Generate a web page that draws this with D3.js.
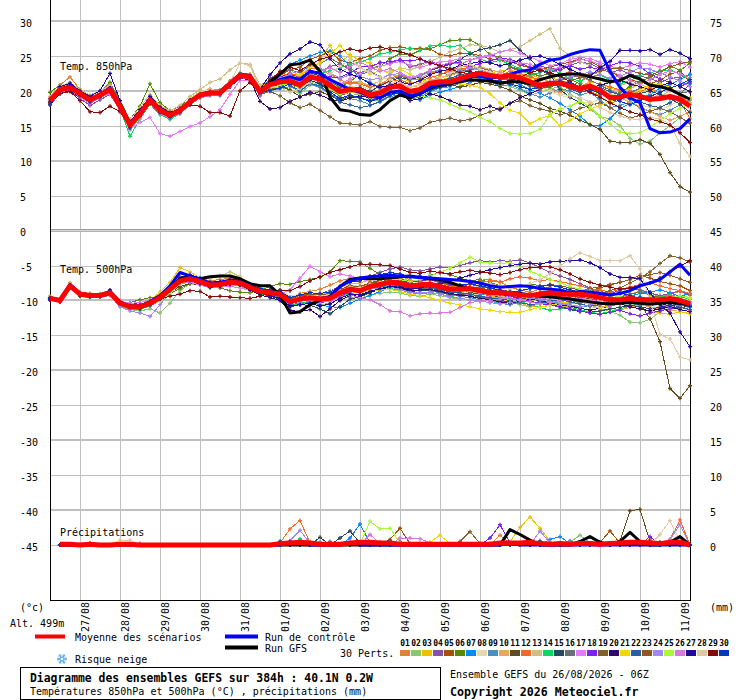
<!DOCTYPE html>
<html>
<head>
<meta charset="utf-8">
<script src="https://cdn.jsdelivr.net/npm/d3@7"></script>
<style>
  body { margin: 0; background: #fff; }
  svg { display: block; font-family: "DejaVu Sans Mono", monospace; font-size: 10px; }
</style>
</head>
<body>
<svg id="chart" width="740" height="700"></svg>
<script>
// 6-hourly steps 0..64 (26/08 06Z -> 11/09 06Z)
const dayLabels = ["27/08","28/08","29/08","30/08","31/08","01/09","02/09","03/09",
  "04/09","05/09","06/09","07/09","08/09","09/09","10/09","11/09"];

const pertColors = ["#e88030","#88c870","#f0c000","#8850a8","#a85008","#588808","#0888ff","#e8d8b0",
  "#4890c0","#e8a858","#604c18","#f86820","#d0c080","#08d860","#284860","#687078","#e878f8","#8020f0",
  "#806030","#300870","#f0d800","#2860a0","#905820","#a088f0","#a8f838","#d878d8","#2008a0","#e0c8a0",
  "#880808","#0038c0"];

// Temp. 850hPa
const t850Mean = [18.6,20.2,20.5,19.6,18.7,19.4,20.2,17.8,15.1,16.7,18.7,17.2,16.5,17.2,18.4,19.4,19.7,19.7,21.0,22.2,22.0,19.9,
  20.9,21.3,21.4,20.8,22.0,21.7,20.8,19.9,20.2,20.1,19.4,19.7,20.5,20.7,19.9,20.2,21.1,21.3,21.3,21.8,22.2,22.5,
  22.2,22.0,22.2,21.9,21.3,20.8,21.1,21.1,20.7,20.3,20.7,20.1,19.0,19.1,19.5,19.2,18.8,18.9,19.2,18.8,17.8];
const t850Ctrl = [18.5,20.0,20.8,19.7,18.8,19.5,20.5,18.0,15.2,16.9,18.9,17.3,16.6,17.3,18.5,19.5,19.8,19.8,21.1,22.4,22.2,20.1,
  21.0,21.6,22.0,21.6,22.8,22.5,21.6,20.9,20.2,19.8,19.2,19.0,19.8,20.0,19.3,19.5,20.5,21.0,21.2,21.5,22.0,22.2,
  21.8,22.0,22.4,22.8,23.0,23.8,24.4,24.6,25.2,25.6,25.9,25.8,22.8,20.5,19.0,18.3,14.6,14.0,14.1,14.6,16.0];
const t850Gfs = [18.6,20.1,20.4,19.5,18.7,19.3,20.2,17.8,15.2,16.7,18.7,17.3,16.6,17.3,18.5,19.5,19.8,19.7,21.0,22.3,22.1,20.0,
  21.2,22.4,23.7,23.9,24.4,22.8,19.1,17.3,17.1,16.6,16.5,17.3,18.6,19.4,19.0,19.6,20.4,20.8,21.0,21.3,21.6,21.5,
  21.4,21.1,21.3,21.3,21.0,21.6,22.0,22.3,22.4,22.4,22.0,21.7,21.3,21.5,22.2,21.7,20.8,20.6,20.2,19.5,18.8];
const t850Perts = [
  [19.0,20.8,22.0,20.2,19.0,19.8,21.0,18.3,15.6,17.3,19.2,17.8,17.0,17.6,18.8,19.6,20.3,20.1,21.4,22.6,22.3,20.4,21.5,22.0,22.6,22.0,23.3,23.0,22.4,21.6,21.0,21.3,20.6,20.9,21.8,22.3,21.6,21.7,22.5,22.9,23.0,23.4,23.6,23.1,22.4,21.5,20.8,21.7,22.3,21.0,20.4,19.8,20.6,21.4,20.0,19.3,18.2,18.7,20.1,19.6,18.5,19.8,20.4,19.3,18.3],
  [18.2,19.9,20.1,19.3,18.3,19.0,19.8,17.4,14.4,16.2,18.3,16.8,16.0,16.7,18.0,19.0,19.5,19.4,20.6,21.8,21.7,19.6,20.4,20.5,20.2,19.6,20.8,20.6,19.5,18.8,19.3,19.6,18.8,18.6,19.3,19.9,19.2,19.4,20.2,20.5,20.8,21.3,21.6,21.8,21.5,21.0,20.6,20.1,19.4,19.8,20.3,20.6,19.5,18.8,17.4,16.3,16.0,15.0,13.2,12.4,12.8,14.0,15.0,16.2,15.5],
  [18.9,20.6,21.0,19.9,19.1,19.7,20.6,18.1,15.5,17.0,19.0,17.5,16.8,17.5,18.9,19.9,20.1,19.9,21.2,22.6,22.4,20.3,21.5,22.6,23.0,22.1,23.4,24.6,26.5,24.0,25.2,24.3,24.0,23.1,22.4,22.0,21.3,21.0,21.8,22.0,21.6,22.5,23.2,23.0,22.6,22.8,23.1,22.4,21.7,21.8,22.0,21.4,21.2,20.6,21.3,21.0,20.4,20.0,20.3,21.0,20.2,19.7,20.5,19.6,18.7],
  [18.0,19.6,20.0,18.9,17.9,18.7,19.5,17.3,14.8,16.4,18.2,16.9,16.2,16.9,18.1,19.1,19.4,19.5,20.7,21.9,21.6,19.3,20.4,21.4,22.2,21.6,22.6,22.8,23.5,23.8,23.2,22.5,23.3,24.1,23.9,24.5,23.4,23.8,24.3,23.6,22.9,23.3,22.7,22.0,21.8,22.3,23.4,22.8,22.6,23.5,23.3,22.9,23.7,24.1,23.9,23.2,22.6,23.0,22.4,22.1,21.8,21.2,21.8,21.9,22.3],
  [18.8,20.5,20.8,19.8,18.9,19.6,20.5,18.0,15.3,17.0,18.9,17.5,16.7,17.4,18.7,19.7,20.0,19.9,21.3,22.5,22.3,20.2,21.3,22.2,23.0,23.4,24.5,25.0,25.6,24.4,24.0,24.6,25.0,25.8,26.2,26.3,26.0,26.1,26.0,25.2,25.0,25.4,25.4,25.0,24.6,24.4,24.2,23.7,23.3,23.0,23.4,23.8,24.1,24.6,24.2,23.5,22.8,22.0,21.6,21.2,21.0,21.5,22.4,22.8,21.3],
  [19.8,20.8,20.9,19.5,18.5,19.9,21.2,18.6,15.9,17.8,21.0,18.3,17.2,17.8,18.8,19.6,19.9,20.1,21.4,22.4,22.2,20.1,20.5,20.8,20.9,20.4,21.8,22.1,21.3,20.5,21.3,22.4,23.3,23.5,24.6,25.3,25.1,25.8,26.0,26.6,27.2,27.3,27.3,26.5,25.2,24.8,23.5,23.0,22.6,22.1,22.5,22.1,21.7,21.0,20.2,19.6,19.2,19.8,20.6,21.3,22.0,22.5,23.6,22.9,24.0],
  [18.4,20.0,20.5,19.4,18.5,19.2,20.1,17.7,14.9,16.5,18.5,17.0,16.3,17.1,18.3,19.3,19.6,19.6,21.0,22.3,22.1,19.7,21.3,22.5,23.8,24.4,25.0,25.5,25.7,25.0,23.5,21.8,21.2,20.4,20.0,19.8,19.0,18.7,19.4,19.8,20.2,20.6,21.2,21.7,22.0,21.8,21.5,20.9,20.2,19.7,19.0,18.2,17.3,16.4,15.1,15.0,16.0,17.5,18.2,18.9,19.5,20.4,20.9,21.6,22.4],
  [19.0,20.6,20.9,20.0,19.3,19.9,20.5,18.2,15.6,17.2,19.1,17.6,16.9,17.6,18.9,19.8,20.2,20.0,21.3,22.5,22.2,20.1,20.8,21.2,20.9,20.1,21.4,21.9,20.9,20.0,20.6,20.8,20.1,20.5,21.3,21.2,20.6,20.9,21.8,22.3,22.8,22.4,22.1,22.6,23.1,22.5,22.0,21.4,20.7,20.1,19.8,19.4,19.0,18.5,18.2,18.9,19.6,19.3,18.8,18.1,17.6,17.3,17.9,18.6,18.0],
  [18.2,19.8,20.4,19.2,18.4,19.1,19.8,17.4,14.7,16.4,18.4,16.9,16.2,16.8,18.1,19.0,19.4,19.3,20.7,22.0,21.8,19.5,20.0,20.3,20.6,19.9,21.0,20.5,19.6,18.7,18.9,18.6,18.0,18.4,19.2,19.4,18.8,19.1,19.9,20.4,20.6,21.1,21.5,21.8,21.3,20.7,20.9,20.3,19.6,19.1,19.7,20.3,20.0,19.4,19.8,18.7,17.6,17.9,18.4,17.6,17.0,16.6,17.2,18.0,18.7],
  [18.7,20.3,20.6,19.8,18.8,19.4,20.3,17.9,15.3,16.9,18.8,17.3,16.7,17.3,18.6,19.5,19.9,19.8,21.1,22.3,22.1,20.0,21.0,21.6,21.8,21.2,22.2,21.6,20.5,19.8,20.4,20.2,19.7,20.2,21.0,21.2,20.5,20.8,21.5,21.9,22.2,22.6,23.0,23.5,23.0,22.7,22.3,22.9,22.4,21.8,21.3,21.6,21.0,20.4,20.9,20.2,19.5,19.0,18.4,17.8,17.0,16.4,15.8,16.3,17.1],
  [18.5,20.0,20.3,19.5,18.6,19.3,20.0,17.6,15.0,16.6,18.6,17.1,16.4,17.1,18.3,19.3,19.6,19.6,20.9,22.1,21.9,19.8,20.6,20.8,20.1,19.2,19.5,19.9,19.3,18.7,19.2,19.0,18.6,19.0,19.8,20.1,19.5,19.6,20.3,20.7,21.0,20.5,20.8,21.2,21.0,20.6,20.1,19.3,18.7,18.2,17.5,17.1,16.5,15.8,15.2,14.5,12.8,12.6,12.6,13.0,12.5,10.9,8.3,6.3,5.5],
  [18.9,20.4,20.8,19.9,19.0,19.5,20.4,18.0,15.4,16.9,18.9,17.4,16.8,17.4,18.5,19.5,19.9,19.9,21.2,22.4,22.2,20.1,21.2,21.9,22.5,22.0,22.8,22.3,21.6,20.9,21.2,21.0,20.5,20.9,21.4,21.6,21.0,21.4,21.9,22.3,22.9,23.1,23.4,23.0,22.6,22.2,22.8,22.5,22.0,21.6,21.9,22.3,22.7,22.0,21.5,20.9,20.6,20.1,19.8,19.9,20.5,19.6,19.2,18.5,16.0],
  [19.2,20.7,21.2,20.2,19.4,20.0,20.8,18.4,15.9,17.6,19.5,17.9,17.2,17.9,19.2,20.2,21.2,21.7,23.0,24.0,23.8,20.8,21.5,22.3,22.0,21.3,22.3,22.6,21.7,21.0,21.5,21.2,20.8,21.4,22.5,23.3,23.0,23.5,24.2,24.8,25.6,26.0,26.6,26.5,26.2,25.5,25.9,26.3,27.2,28.1,28.9,26.1,25.0,24.2,23.6,22.4,21.5,20.8,21.2,20.6,19.7,19.2,20.0,19.5,18.9],
  [18.3,19.9,20.3,19.3,18.4,19.2,20.1,17.5,13.5,16.0,18.1,16.6,15.9,16.8,18.0,19.1,19.5,19.6,20.8,21.9,21.8,19.7,21.0,21.7,22.3,21.8,22.9,22.5,22.9,23.3,23.8,24.1,24.6,25.3,25.5,25.9,26.1,25.8,26.4,26.6,26.3,26.5,25.4,24.6,24.0,24.4,23.8,23.2,22.3,22.6,23.1,22.5,21.8,21.4,22.0,22.3,21.6,21.0,21.5,22.2,22.6,22.9,23.0,22.4,21.6],
  [18.6,20.3,20.6,19.7,18.8,19.5,20.3,17.8,15.1,16.8,18.8,17.3,16.6,17.3,18.5,19.5,19.8,19.8,21.1,22.3,22.0,20.0,20.9,21.6,22.0,21.4,22.6,22.1,21.0,20.2,20.3,20.5,19.9,20.7,21.4,21.9,21.6,22.0,22.9,23.4,23.8,24.5,25.3,25.9,26.2,26.6,27.2,25.8,24.6,23.0,22.3,20.2,19.1,18.3,17.4,17.9,18.5,18.8,19.4,19.6,20.0,19.5,18.9,18.1,16.9],
  [18.5,20.1,20.5,19.5,18.6,19.4,20.1,17.7,15.0,16.6,18.6,17.1,16.5,17.1,18.3,19.3,19.6,19.6,20.9,22.1,21.9,19.9,21.8,22.6,23.0,22.6,23.6,23.9,24.7,23.9,23.0,22.3,22.8,22.0,21.6,22.1,21.7,22.2,22.9,22.6,22.3,22.8,23.0,23.3,22.9,22.1,21.6,21.2,20.7,20.5,21.0,21.5,21.9,22.2,21.6,20.8,20.1,19.5,19.8,20.3,20.7,21.1,20.4,19.7,19.9],
  [18.4,19.9,20.2,19.1,18.3,19.0,19.6,17.2,14.6,15.5,16.2,13.9,13.5,14.2,14.9,15.4,16.3,17.3,19.5,21.5,21.4,19.5,20.7,21.2,21.0,20.5,21.6,21.9,21.5,21.0,21.7,22.4,23.1,23.5,23.9,24.2,23.7,23.3,23.8,24.1,24.3,24.6,24.4,24.7,25.0,25.6,25.9,25.4,24.9,24.2,23.6,23.9,24.5,24.8,24.6,24.1,23.5,23.2,23.6,24.0,23.8,23.4,23.9,24.2,23.4],
  [18.6,20.2,20.7,19.7,18.9,19.6,20.4,17.9,15.2,16.8,18.7,17.2,16.5,17.2,18.4,19.4,19.8,19.8,21.1,22.2,22.0,20.0,21.2,22.0,22.4,21.8,22.9,22.7,22.0,21.9,22.6,23.4,23.5,24.0,24.2,24.4,24.3,24.5,24.0,23.6,23.9,24.1,23.5,23.9,24.3,24.7,24.5,24.0,23.4,22.8,22.6,23.2,23.6,23.1,23.4,23.0,23.6,24.1,24.0,23.5,22.4,21.7,21.2,20.6,21.3],
  [18.3,19.9,20.2,19.3,18.4,19.1,19.8,17.4,14.8,16.4,18.4,16.9,16.2,16.9,18.1,19.1,19.4,19.4,20.6,21.8,21.6,19.5,19.9,19.3,18.3,17.6,18.1,17.2,16.3,15.4,15.3,15.1,15.6,14.9,14.8,14.8,14.3,14.7,15.5,15.8,16.1,15.7,15.9,16.5,17.0,17.5,18.2,18.6,17.9,17.4,17.1,16.6,16.9,17.5,17.9,18.3,17.6,16.8,16.1,16.5,17.1,17.5,17.0,16.2,15.4],
  [18.0,19.7,20.0,19.1,18.4,19.1,19.9,17.5,14.9,16.5,18.5,17.0,16.4,17.0,18.2,19.2,19.5,19.5,20.6,21.8,21.6,18.5,17.4,17.6,18.5,19.1,19.8,19.4,18.8,18.5,19.0,19.3,19.0,19.4,19.9,19.5,18.6,18.9,19.6,19.2,18.6,18.0,17.8,17.3,17.8,17.3,18.2,19.0,19.6,20.2,20.8,21.0,20.6,20.1,20.4,20.8,21.2,21.5,21.0,20.6,20.1,20.7,21.2,20.6,19.9],
  [18.8,20.4,20.7,19.8,18.9,19.6,20.4,18.0,15.4,17.0,18.9,17.4,16.8,17.4,18.6,19.6,19.9,19.8,21.1,22.3,22.1,20.0,21.0,21.5,21.9,22.3,23.4,24.0,25.3,26.5,24.8,23.4,22.4,22.9,22.8,23.1,22.4,21.6,21.2,21.6,21.3,21.0,20.8,20.5,19.6,18.3,17.2,16.8,15.3,16.0,16.5,15.0,15.8,16.7,17.4,17.9,18.5,19.2,19.6,20.1,20.8,21.0,20.5,19.6,19.0],
  [18.4,20.1,20.3,19.4,18.5,19.3,20.0,17.7,15.0,16.6,18.6,17.1,16.4,17.1,18.3,19.3,19.6,19.6,20.9,22.0,21.9,19.8,20.5,21.0,20.8,20.0,21.1,20.7,19.6,18.4,18.0,17.6,17.9,18.5,19.3,19.8,19.4,19.9,20.8,21.4,21.8,22.3,22.6,22.8,22.4,22.1,22.0,21.5,20.9,20.4,20.7,20.9,20.3,19.8,20.1,20.5,19.9,19.4,18.8,18.4,17.9,17.6,18.3,19.5,21.0],
  [18.9,20.5,20.6,19.6,18.6,19.4,20.3,17.8,15.2,16.8,18.7,17.2,16.6,17.3,18.5,19.4,19.8,19.7,21.0,22.1,21.9,19.9,20.2,20.6,21.8,21.2,22.0,21.2,20.1,19.3,19.8,19.6,19.2,19.6,20.2,20.6,20.0,20.3,21.0,21.2,21.5,21.6,22.1,22.4,22.0,21.6,21.9,21.4,20.8,20.2,20.6,20.9,21.4,21.9,22.5,22.8,23.1,23.3,22.9,22.5,22.2,22.8,23.4,23.9,24.2],
  [18.8,20.3,20.4,19.7,18.8,19.4,20.2,17.9,15.2,16.9,18.8,17.3,16.6,17.4,18.6,19.5,19.8,19.7,21.0,22.2,22.0,20.0,21.1,21.8,22.4,22.9,23.7,23.2,22.6,21.8,22.3,22.1,21.6,21.8,22.3,22.5,21.8,22.1,22.7,23.0,22.7,22.9,23.3,23.0,22.6,22.4,22.1,21.8,21.2,20.9,21.3,21.7,22.0,22.3,22.7,22.3,21.8,22.1,22.7,23.3,23.1,22.6,22.0,21.4,20.6],
  [18.5,20.1,20.4,19.5,18.8,19.3,19.9,17.6,14.5,16.3,18.3,16.9,16.3,17.0,18.3,19.3,19.6,19.7,21.1,22.1,21.9,19.8,20.4,20.8,21.0,20.4,21.3,20.9,20.2,19.5,19.8,19.6,19.1,19.4,19.9,20.1,19.4,19.3,19.0,18.7,18.1,17.5,17.0,16.2,15.6,14.6,13.9,13.8,13.9,14.5,16.6,17.4,17.8,18.5,17.7,16.4,15.3,14.1,13.9,14.0,14.8,15.8,16.7,17.5,18.2],
  [18.1,19.8,20.2,19.1,18.2,19.0,19.8,17.4,14.5,16.2,18.2,16.8,16.1,16.8,18.0,19.0,19.3,19.4,20.7,21.9,21.7,19.6,21.0,21.5,21.8,21.3,22.2,22.8,23.3,22.6,23.5,24.1,23.4,22.8,23.2,22.6,21.9,22.3,23.0,23.6,24.1,23.8,24.4,24.9,25.1,24.6,24.2,24.0,23.8,23.3,22.9,23.4,23.9,24.5,24.3,23.8,22.9,22.2,21.5,20.9,21.6,22.3,22.9,22.4,21.9],
  [18.8,20.6,21.1,20.0,19.2,20.0,22.5,18.6,15.6,17.3,19.2,17.7,16.9,17.5,18.7,19.6,19.9,19.9,21.2,22.3,22.1,20.2,22.3,24.0,25.3,26.0,27.0,26.6,24.6,23.1,22.4,21.9,21.0,20.5,20.8,21.3,20.9,21.5,22.3,22.8,23.1,23.6,23.9,24.2,24.0,23.6,23.9,24.4,24.8,25.0,24.5,23.8,23.1,22.4,22.1,23.3,24.2,25.8,25.8,25.7,25.9,25.2,25.9,25.4,24.6],
  [18.7,20.2,20.6,19.7,18.8,19.5,20.3,17.9,15.3,16.9,18.8,17.3,16.6,17.3,18.5,19.5,19.8,19.8,21.2,24.0,23.6,20.3,20.6,20.5,19.8,20.3,21.2,21.7,22.4,23.5,24.5,23.3,22.6,22.0,21.6,21.1,20.6,20.8,21.3,21.8,22.5,23.4,23.8,23.1,22.7,22.3,22.1,21.8,21.3,20.6,20.0,19.6,19.3,19.0,18.4,17.6,16.9,16.4,16.0,15.9,16.2,16.0,15.2,12.5,10.6],
  [18.4,19.6,19.9,18.6,17.0,16.9,17.8,17.0,15.0,16.8,18.2,17.0,16.5,17.2,18.0,17.8,16.9,16.9,16.4,20.0,21.2,19.8,21.5,22.8,23.4,22.9,23.8,24.5,24.9,25.6,26.0,25.7,26.1,26.3,25.9,25.6,25.2,24.6,24.0,23.6,23.2,22.6,22.8,22.3,21.7,21.2,21.5,21.9,22.6,23.0,22.6,22.1,21.3,20.5,19.8,19.1,18.3,17.6,17.0,16.6,16.0,15.6,15.1,14.0,12.6],
  [18.1,19.9,20.4,19.3,18.4,19.1,20.0,17.6,14.7,16.4,18.4,16.9,16.2,16.9,18.2,19.2,19.5,19.5,20.8,22.0,21.8,19.7,20.1,20.4,21.0,20.6,21.5,21.0,19.8,18.9,19.4,19.0,18.5,18.9,19.5,19.7,19.1,19.4,20.1,20.5,20.8,21.4,21.8,22.0,21.6,21.4,21.0,20.6,20.2,20.5,21.0,21.4,21.1,20.6,20.2,19.7,19.1,18.5,18.0,18.6,19.2,19.8,20.4,20.9,21.6]
];

// Temp. 500hPa
const t500Mean = [-9.7,-10.0,-7.9,-9.1,-9.3,-9.3,-8.9,-10.4,-10.9,-10.9,-10.4,-9.6,-8.4,-7.2,-6.9,-7.3,-7.8,-7.7,-7.4,-7.5,-8.1,-8.7,
  -8.9,-9.1,-10.2,-9.8,-9.6,-9.8,-9.7,-8.9,-8.4,-8.6,-8.0,-7.7,-7.4,-7.5,-7.9,-7.8,-7.7,-8.0,-8.4,-8.4,-8.3,-8.6,
  -8.9,-8.9,-9.0,-9.2,-9.3,-9.1,-8.9,-9.1,-9.1,-9.1,-9.3,-9.6,-9.9,-9.9,-9.7,-9.9,-9.9,-9.9,-9.7,-10.0,-10.5];
const t500Ctrl = [-9.6,-9.9,-7.7,-9.0,-9.2,-9.2,-8.7,-10.2,-10.8,-10.8,-10.2,-9.3,-7.9,-6.0,-6.5,-7.0,-7.5,-7.4,-7.1,-7.3,-7.9,-8.6,
  -8.9,-9.1,-10.2,-9.8,-9.6,-9.7,-9.5,-8.0,-7.2,-6.8,-6.6,-6.5,-6.4,-6.5,-6.6,-6.7,-6.8,-6.9,-7.0,-7.1,-7.3,-7.5,
  -7.9,-8.1,-8.0,-7.9,-8.0,-8.3,-8.4,-8.5,-8.9,-8.7,-8.8,-9.0,-9.2,-9.0,-8.6,-7.9,-7.5,-7.0,-5.9,-4.8,-6.4];
const t500Gfs = [-9.7,-10.0,-7.8,-9.0,-9.2,-9.2,-8.8,-10.3,-10.8,-10.8,-10.2,-9.4,-8.2,-6.9,-6.6,-6.9,-6.6,-6.5,-6.5,-6.9,-7.6,-7.9,
  -7.9,-9.2,-11.8,-11.6,-10.6,-10.0,-9.4,-8.0,-7.0,-6.8,-6.9,-6.9,-6.8,-6.6,-6.5,-6.7,-6.9,-7.0,-7.4,-7.9,-8.4,-8.6,
  -8.8,-9.0,-9.1,-9.0,-9.2,-9.4,-9.5,-9.6,-9.8,-10.0,-10.2,-10.4,-10.5,-10.4,-10.3,-10.4,-10.5,-10.4,-10.3,-10.4,-10.6];
const t500Perts = [
  [-9.4,-9.8,-7.5,-8.8,-9.0,-9.1,-8.6,-10.0,-10.6,-10.6,-10.0,-9.1,-7.9,-6.7,-6.5,-6.8,-7.2,-7.0,-6.8,-7.0,-7.6,-8.2,-8.5,-8.6,-9.5,-9.0,-8.7,-8.4,-7.8,-7.2,-6.8,-6.9,-6.5,-6.4,-6.2,-6.6,-7.0,-7.3,-7.0,-7.5,-7.9,-8.2,-7.6,-7.1,-7.0,-7.3,-8.1,-8.5,-8.8,-8.4,-8.1,-8.6,-9.0,-8.7,-8.3,-8.9,-9.4,-9.8,-9.2,-8.6,-8.9,-9.5,-9.1,-8.7,-9.3],
  [-9.9,-10.2,-8.2,-9.4,-9.6,-9.5,-9.2,-10.8,-11.3,-11.5,-11.2,-11.8,-10.4,-8.6,-7.6,-7.8,-8.2,-8.0,-7.8,-7.9,-8.6,-9.1,-9.3,-9.6,-10.7,-10.5,-10.2,-10.6,-10.4,-9.8,-9.5,-9.7,-9.2,-9.0,-8.8,-8.9,-9.3,-9.4,-9.1,-9.3,-9.6,-9.8,-9.5,-9.7,-9.9,-10.1,-10.3,-10.6,-10.9,-10.4,-10.0,-10.3,-10.5,-10.2,-10.6,-11.2,-11.6,-12.1,-13.1,-13.2,-12.7,-11.6,-10.9,-11.3,-11.0],
  [-9.6,-9.9,-7.7,-9.0,-9.2,-9.2,-8.8,-10.3,-10.7,-10.6,-10.0,-8.8,-7.4,-5.3,-5.9,-6.8,-7.5,-7.5,-7.2,-7.3,-8.0,-8.6,-8.8,-9.0,-10.0,-9.6,-9.3,-9.1,-8.8,-8.2,-7.6,-7.5,-7.0,-6.8,-6.6,-6.8,-7.2,-7.3,-7.6,-8.0,-8.3,-8.1,-8.4,-8.9,-9.4,-9.7,-10.1,-10.4,-10.8,-11.0,-10.6,-10.2,-9.9,-9.5,-9.2,-9.6,-10.1,-10.5,-10.9,-11.2,-11.5,-11.8,-12.0,-11.6,-11.9],
  [-9.8,-10.0,-8.0,-9.2,-9.4,-9.3,-9.0,-10.5,-11.0,-11.1,-10.6,-9.8,-8.6,-7.4,-7.1,-7.5,-7.9,-7.8,-7.5,-7.6,-8.2,-8.8,-9.0,-9.2,-10.1,-9.6,-9.2,-9.0,-8.6,-8.0,-7.3,-7.0,-6.5,-6.0,-5.5,-5.2,-5.6,-5.8,-5.5,-5.2,-5.4,-5.0,-4.6,-4.3,-4.5,-4.3,-4.4,-4.2,-4.6,-5.3,-6.0,-6.5,-7.0,-7.6,-8.2,-8.7,-9.0,-8.6,-8.2,-8.5,-8.9,-9.3,-9.0,-8.6,-9.2],
  [-9.7,-10.1,-8.0,-9.0,-9.1,-9.2,-8.8,-10.3,-10.8,-10.8,-10.3,-9.6,-8.3,-7.0,-6.7,-7.1,-7.5,-7.4,-7.1,-7.2,-7.9,-8.5,-8.7,-8.9,-9.9,-9.4,-9.1,-9.2,-9.0,-8.4,-7.9,-8.1,-7.5,-7.1,-6.7,-6.9,-7.3,-7.1,-7.0,-7.4,-7.8,-8.0,-7.7,-8.0,-8.3,-8.5,-8.7,-9.0,-9.1,-8.8,-8.6,-9.0,-9.2,-8.9,-8.6,-8.2,-7.8,-7.4,-7.0,-6.4,-6.8,-7.3,-7.6,-7.9,-8.6],
  [-9.6,-9.9,-7.8,-9.0,-9.2,-9.3,-8.8,-10.2,-10.3,-9.9,-9.6,-9.4,-9.0,-8.3,-7.5,-7.6,-8.0,-8.2,-8.6,-8.8,-8.9,-8.5,-8.0,-7.6,-7.7,-7.3,-7.0,-6.7,-5.9,-4.3,-4.4,-4.5,-5.4,-6.3,-6.8,-7.1,-7.5,-7.0,-6.4,-6.0,-6.3,-6.8,-7.2,-7.0,-7.4,-7.9,-8.3,-8.0,-7.6,-7.9,-8.5,-8.8,-9.0,-8.7,-8.5,-8.9,-9.2,-9.5,-9.1,-8.8,-9.2,-9.6,-9.9,-9.5,-9.8],
  [-9.8,-10.1,-8.0,-9.2,-9.4,-9.4,-9.0,-10.6,-11.1,-11.0,-10.5,-9.7,-8.5,-7.3,-7.0,-7.4,-7.9,-7.8,-7.5,-7.6,-8.2,-8.9,-9.2,-9.5,-10.6,-10.4,-10.3,-10.6,-10.9,-11.0,-10.4,-9.8,-9.3,-8.7,-8.2,-8.0,-8.3,-8.1,-7.9,-8.2,-8.6,-8.5,-8.8,-9.1,-9.3,-9.0,-8.7,-9.0,-9.4,-9.6,-9.3,-9.0,-9.4,-9.8,-10.3,-10.6,-10.2,-9.8,-9.4,-9.0,-8.8,-8.5,-8.9,-9.4,-9.0],
  [-9.6,-9.9,-7.8,-9.0,-9.2,-9.2,-8.8,-10.3,-10.8,-10.9,-10.3,-9.5,-8.3,-7.1,-6.8,-7.2,-7.7,-7.6,-7.3,-7.4,-8.0,-8.6,-8.6,-8.5,-9.4,-9.1,-8.9,-9.0,-8.7,-8.1,-7.8,-8.0,-7.6,-7.4,-7.5,-7.8,-8.2,-8.4,-8.3,-8.5,-8.8,-8.6,-8.9,-9.3,-9.6,-9.8,-9.5,-9.3,-9.6,-9.9,-10.2,-10.0,-9.7,-9.3,-9.6,-9.9,-10.3,-10.6,-10.4,-10.1,-10.5,-10.9,-11.3,-11.0,-11.4],
  [-9.8,-10.0,-8.0,-9.2,-9.4,-9.4,-9.0,-10.5,-11.0,-11.0,-10.6,-9.9,-8.8,-7.6,-7.2,-7.6,-8.0,-7.9,-7.6,-7.8,-8.4,-9.0,-9.3,-9.6,-10.4,-10.0,-9.8,-10.1,-9.9,-9.2,-8.6,-8.8,-8.3,-8.0,-7.9,-8.2,-8.6,-8.5,-8.6,-8.9,-9.2,-9.4,-9.6,-9.9,-10.1,-10.4,-10.6,-10.3,-10.1,-9.8,-10.0,-10.4,-10.8,-11.0,-10.7,-10.3,-10.0,-9.7,-10.1,-10.5,-10.8,-10.4,-10.1,-10.5,-10.9],
  [-9.5,-9.8,-7.7,-8.9,-9.1,-9.2,-8.7,-10.2,-10.7,-10.7,-10.2,-9.4,-8.2,-7.0,-6.7,-7.1,-7.6,-7.5,-7.2,-7.3,-7.9,-8.5,-8.8,-9.0,-10.0,-9.7,-9.4,-9.6,-9.3,-8.6,-8.1,-8.3,-7.8,-7.6,-7.4,-7.6,-8.0,-8.0,-7.9,-8.2,-8.6,-8.8,-9.1,-9.4,-9.6,-9.3,-9.1,-9.4,-9.8,-10.2,-10.5,-10.8,-10.9,-10.6,-10.4,-10.8,-11.1,-11.4,-11.0,-10.6,-10.9,-11.2,-11.5,-11.3,-11.6],
  [-9.7,-10.0,-8.0,-9.1,-9.3,-9.2,-8.9,-10.2,-10.5,-10.3,-9.9,-9.5,-8.8,-8.0,-7.6,-7.7,-8.0,-7.9,-7.6,-7.7,-8.3,-8.8,-9.0,-9.3,-10.2,-9.9,-9.6,-9.8,-9.6,-8.9,-8.4,-8.5,-8.1,-7.9,-7.7,-7.9,-8.3,-8.2,-8.2,-8.6,-9.0,-9.2,-8.9,-9.0,-9.2,-9.5,-9.4,-9.6,-9.9,-9.6,-9.3,-9.5,-9.8,-9.6,-9.8,-10.2,-10.6,-10.3,-10.1,-10.5,-12.6,-15.9,-22.6,-24.0,-22.2],
  [-9.6,-9.9,-7.8,-9.0,-9.2,-9.2,-8.8,-10.3,-10.8,-10.8,-10.2,-9.4,-8.1,-6.9,-6.7,-7.2,-7.7,-7.6,-7.3,-7.4,-8.0,-8.6,-8.8,-9.0,-10.1,-9.6,-9.4,-9.5,-9.3,-8.7,-8.2,-8.3,-7.7,-7.4,-7.2,-7.3,-7.7,-7.6,-7.5,-7.8,-8.2,-8.0,-7.6,-7.3,-7.2,-7.4,-6.9,-6.6,-6.8,-7.2,-7.0,-7.3,-7.6,-7.9,-8.3,-8.5,-8.8,-8.4,-8.1,-7.7,-7.5,-7.9,-8.3,-8.6,-9.0],
  [-9.5,-9.8,-7.6,-8.9,-9.1,-9.1,-8.6,-10.1,-10.6,-10.6,-10.1,-9.2,-8.0,-6.8,-6.4,-6.7,-6.9,-6.5,-5.9,-6.6,-7.6,-8.4,-8.7,-9.0,-9.9,-9.5,-9.3,-9.4,-9.1,-8.5,-8.0,-8.2,-7.7,-7.5,-7.3,-7.5,-7.9,-7.8,-7.7,-8.0,-8.4,-8.5,-8.7,-9.0,-9.2,-9.4,-9.6,-9.9,-10.1,-9.8,-9.5,-9.7,-9.9,-10.2,-10.5,-10.3,-10.0,-9.8,-10.1,-10.4,-10.2,-9.9,-10.3,-10.7,-10.9],
  [-9.8,-10.1,-8.1,-9.3,-9.5,-9.5,-9.1,-10.7,-11.2,-11.3,-10.8,-10.0,-8.8,-7.6,-7.2,-7.6,-8.1,-7.9,-7.6,-7.7,-8.3,-9.0,-9.4,-9.7,-10.8,-10.4,-10.1,-10.3,-10.0,-9.4,-9.0,-9.2,-8.8,-8.5,-8.3,-8.5,-8.9,-9.0,-8.9,-9.1,-9.4,-9.7,-9.9,-10.1,-10.3,-10.0,-9.7,-10.1,-10.6,-11.0,-11.4,-11.2,-11.0,-11.3,-11.7,-11.9,-11.6,-11.2,-10.8,-10.4,-10.0,-9.6,-9.2,-9.5,-9.8],
  [-9.9,-10.2,-8.1,-9.3,-9.5,-9.5,-9.1,-10.6,-11.1,-11.2,-10.7,-9.9,-8.7,-7.5,-7.1,-7.5,-8.0,-7.9,-7.6,-7.7,-8.3,-8.9,-9.4,-9.8,-10.9,-10.6,-10.7,-11.2,-11.9,-10.9,-9.8,-9.5,-8.9,-8.4,-8.1,-8.3,-8.7,-8.6,-8.5,-8.8,-9.1,-9.3,-9.2,-9.4,-9.7,-10.0,-10.2,-10.0,-9.7,-10.1,-10.5,-10.9,-11.3,-11.6,-11.7,-11.5,-11.2,-11.0,-10.7,-10.9,-11.2,-11.0,-10.8,-11.1,-10.7],
  [-9.6,-10.0,-7.8,-9.1,-9.3,-9.4,-8.9,-10.4,-10.8,-10.8,-10.3,-9.5,-8.4,-7.3,-7.0,-7.4,-7.9,-7.8,-7.5,-7.6,-8.2,-8.8,-9.0,-9.3,-10.3,-9.9,-9.7,-9.9,-9.8,-9.1,-8.6,-8.8,-8.3,-8.0,-7.8,-8.0,-8.4,-8.3,-8.2,-8.4,-8.8,-9.0,-9.2,-9.5,-9.8,-10.1,-10.4,-10.2,-9.9,-9.6,-9.4,-9.7,-10.0,-10.3,-10.0,-9.7,-9.5,-9.9,-10.3,-10.6,-10.3,-10.0,-10.4,-10.8,-10.5],
  [-9.7,-10.0,-7.9,-9.1,-9.3,-9.2,-8.8,-10.1,-10.4,-10.3,-9.9,-9.3,-8.5,-7.6,-7.4,-7.8,-8.1,-8.1,-8.0,-8.2,-8.6,-8.9,-8.9,-9.1,-8.5,-6.8,-5.1,-5.9,-6.6,-6.2,-6.5,-6.9,-7.3,-7.6,-7.9,-8.2,-8.0,-7.7,-7.9,-8.3,-8.6,-8.9,-9.2,-9.4,-9.5,-9.7,-9.4,-9.1,-9.3,-9.6,-9.9,-10.2,-9.9,-9.6,-9.9,-10.2,-10.5,-10.2,-9.9,-10.3,-10.6,-10.4,-10.1,-9.8,-10.2],
  [-9.8,-10.1,-8.0,-9.2,-9.4,-9.4,-9.0,-10.5,-11.0,-11.0,-10.5,-9.7,-8.5,-7.3,-7.0,-7.4,-7.9,-7.8,-7.5,-7.6,-8.2,-8.8,-9.1,-9.4,-10.5,-10.1,-9.9,-10.3,-10.1,-9.4,-8.8,-8.7,-8.1,-7.7,-7.3,-7.1,-7.4,-7.2,-7.0,-7.3,-7.7,-7.9,-8.2,-8.5,-8.8,-9.1,-9.4,-9.8,-10.1,-10.4,-10.7,-10.9,-11.2,-11.5,-11.8,-12.0,-11.7,-11.4,-11.9,-12.2,-11.8,-11.5,-11.2,-11.0,-11.3],
  [-9.7,-10.0,-7.9,-9.1,-9.3,-9.3,-8.9,-10.4,-10.9,-10.8,-10.3,-9.5,-8.3,-7.1,-6.8,-7.2,-7.7,-7.6,-7.3,-7.4,-8.0,-8.6,-8.8,-9.0,-10.0,-9.6,-9.4,-9.5,-9.3,-8.6,-8.1,-8.2,-7.6,-7.3,-7.1,-7.3,-7.7,-7.6,-7.5,-7.9,-8.3,-8.5,-8.3,-8.6,-8.9,-9.0,-9.1,-9.3,-9.4,-9.0,-8.7,-8.9,-9.3,-9.6,-9.4,-9.0,-8.6,-8.2,-7.5,-6.8,-5.9,-4.7,-3.6,-3.9,-4.5],
  [-9.9,-10.1,-8.1,-9.3,-9.5,-9.5,-9.1,-10.6,-11.1,-11.1,-10.6,-9.9,-8.7,-7.5,-7.2,-7.6,-8.1,-8.0,-7.7,-7.8,-8.5,-9.2,-9.6,-10.0,-11.4,-11.6,-11.3,-12.3,-11.2,-10.0,-9.3,-9.4,-8.8,-8.4,-8.1,-8.2,-8.6,-8.5,-8.4,-8.7,-9.0,-9.2,-9.4,-9.7,-9.9,-10.2,-10.4,-10.1,-9.8,-10.0,-10.3,-10.6,-10.8,-11.1,-11.4,-11.1,-10.8,-10.5,-10.9,-11.2,-11.5,-11.2,-10.9,-11.3,-11.6],
  [-9.6,-9.9,-7.8,-9.0,-9.2,-9.2,-8.8,-10.3,-10.7,-10.7,-10.1,-9.2,-7.9,-6.3,-6.4,-7.0,-7.6,-7.5,-7.2,-7.3,-7.9,-8.5,-8.7,-9.0,-10.1,-9.8,-9.6,-9.8,-9.7,-9.1,-8.7,-8.9,-8.6,-8.5,-8.4,-8.7,-9.1,-9.3,-9.6,-10.0,-10.4,-10.6,-10.9,-11.2,-11.4,-11.6,-11.7,-11.7,-11.3,-11.0,-10.7,-10.4,-10.2,-10.5,-10.9,-11.1,-10.7,-10.4,-10.1,-9.8,-9.5,-9.9,-10.3,-10.0,-9.7],
  [-9.8,-10.0,-8.0,-9.2,-9.4,-9.4,-9.0,-10.5,-11.0,-11.0,-10.5,-9.7,-8.5,-7.3,-7.0,-7.4,-7.9,-7.8,-7.5,-7.6,-8.2,-8.8,-9.0,-9.2,-10.2,-9.8,-9.6,-9.8,-9.7,-9.0,-8.5,-8.7,-8.1,-7.9,-7.7,-7.9,-8.3,-8.2,-8.1,-8.4,-8.8,-8.9,-9.1,-9.4,-9.6,-9.8,-10.0,-10.3,-10.6,-10.4,-10.1,-9.9,-10.2,-10.5,-10.8,-10.6,-10.3,-10.0,-9.7,-9.5,-9.8,-10.2,-10.6,-10.9,-11.3],
  [-9.6,-9.9,-7.8,-9.0,-9.2,-9.2,-8.8,-10.3,-10.8,-10.8,-10.2,-9.4,-8.2,-7.0,-6.8,-7.2,-7.7,-7.6,-7.3,-7.4,-8.0,-8.6,-8.6,-8.8,-9.7,-9.3,-9.1,-9.2,-9.0,-8.4,-7.9,-8.0,-7.5,-7.3,-7.1,-7.3,-7.6,-7.5,-7.4,-7.7,-8.1,-8.3,-8.0,-8.2,-8.5,-8.7,-8.9,-8.6,-8.3,-8.0,-7.7,-7.9,-8.2,-8.5,-8.3,-8.0,-7.7,-7.4,-7.0,-6.7,-6.3,-6.0,-6.4,-6.9,-7.4],
  [-9.7,-10.0,-8.0,-9.2,-9.4,-9.5,-9.3,-10.9,-11.5,-11.8,-12.3,-10.6,-9.0,-7.6,-7.2,-7.5,-7.9,-7.8,-7.5,-7.6,-8.2,-8.8,-9.1,-9.3,-10.3,-9.9,-9.7,-9.9,-9.8,-9.1,-8.6,-8.8,-8.3,-8.2,-8.1,-8.4,-8.8,-8.9,-8.8,-9.1,-9.5,-9.7,-9.9,-10.1,-10.3,-10.5,-10.3,-10.0,-9.7,-9.9,-10.2,-10.5,-10.7,-10.9,-10.6,-10.3,-10.0,-9.8,-10.1,-10.4,-10.1,-9.8,-10.2,-10.5,-10.9],
  [-9.6,-9.9,-7.9,-9.1,-9.3,-9.3,-8.9,-10.4,-11.0,-11.0,-10.6,-10.1,-9.0,-7.6,-7.1,-7.4,-7.8,-7.7,-7.4,-7.5,-8.1,-8.7,-8.9,-9.1,-10.1,-9.7,-9.4,-9.6,-9.4,-8.7,-8.2,-8.3,-7.7,-7.4,-7.1,-7.0,-7.3,-7.0,-6.5,-6.0,-5.4,-4.6,-3.8,-4.5,-4.6,-4.7,-4.6,-5.1,-5.8,-6.4,-7.0,-7.5,-8.0,-8.4,-8.6,-8.9,-9.2,-9.5,-9.8,-10.1,-10.4,-10.0,-9.6,-9.3,-9.6],
  [-9.8,-10.1,-8.0,-9.2,-9.4,-9.4,-9.0,-10.5,-11.0,-11.0,-10.5,-9.7,-8.5,-7.3,-7.0,-7.4,-7.9,-7.8,-7.5,-7.6,-8.2,-8.8,-9.1,-9.4,-10.4,-10.1,-9.9,-10.2,-10.1,-9.5,-9.2,-9.6,-9.9,-10.6,-11.5,-11.6,-12.2,-11.9,-11.8,-11.8,-11.7,-11.0,-10.3,-10.1,-10.0,-9.8,-9.6,-9.9,-10.2,-10.5,-10.3,-10.0,-9.7,-9.9,-10.2,-10.5,-10.8,-10.5,-10.2,-10.0,-10.3,-10.6,-10.9,-10.6,-10.3],
  [-9.9,-10.1,-8.1,-9.3,-9.4,-9.4,-8.5,-10.4,-11.0,-11.1,-10.6,-9.8,-8.6,-7.4,-7.1,-7.5,-8.0,-7.9,-7.6,-7.7,-8.3,-8.9,-9.3,-9.7,-10.8,-10.6,-10.4,-10.8,-10.5,-9.7,-9.1,-9.2,-8.7,-8.3,-8.0,-8.1,-8.4,-8.2,-7.9,-7.6,-7.2,-6.8,-6.4,-6.0,-5.6,-5.3,-5.0,-4.8,-4.7,-4.8,-4.5,-4.4,-4.3,-4.2,-4.6,-5.3,-6.2,-6.7,-6.7,-6.9,-8.9,-10.6,-11.8,-14.5,-16.6],
  [-9.6,-9.9,-7.8,-9.0,-9.2,-9.2,-8.8,-10.3,-10.8,-10.8,-10.3,-9.5,-8.2,-7.0,-6.7,-7.1,-7.6,-7.5,-7.2,-7.3,-7.9,-8.5,-8.7,-8.9,-9.9,-9.5,-9.3,-9.4,-9.2,-8.6,-8.1,-8.2,-7.7,-7.5,-7.3,-7.5,-7.8,-7.7,-7.6,-7.9,-8.2,-8.3,-8.1,-7.9,-7.6,-7.9,-8.3,-8.0,-7.6,-7.0,-6.2,-5.1,-4.0,-3.2,-3.7,-4.3,-4.3,-4.3,-3.6,-5.5,-10.0,-14.9,-15.5,-18.1,-18.5],
  [-9.6,-9.9,-7.8,-9.0,-9.2,-9.2,-8.8,-10.3,-10.8,-10.7,-10.2,-9.8,-9.4,-9.1,-8.6,-8.7,-9.5,-9.4,-9.5,-9.6,-9.7,-9.4,-8.9,-8.5,-8.6,-8.0,-7.2,-6.6,-6.0,-5.6,-5.2,-4.8,-4.8,-4.9,-5.0,-5.5,-6.0,-6.1,-5.8,-6.0,-6.2,-5.9,-5.7,-5.9,-6.1,-6.3,-6.0,-5.6,-5.3,-5.2,-5.2,-5.6,-6.2,-6.9,-7.4,-7.8,-8.1,-8.4,-8.2,-7.9,-7.5,-6.8,-5.9,-5.1,-4.3],
  [-9.7,-10.0,-7.9,-9.1,-9.3,-9.3,-8.8,-10.3,-10.7,-10.7,-10.2,-9.4,-8.1,-6.7,-6.3,-6.8,-7.4,-7.3,-7.0,-7.1,-7.7,-8.3,-8.5,-8.7,-9.6,-9.2,-8.9,-9.0,-8.8,-8.0,-7.4,-7.2,-6.6,-6.3,-6.0,-6.2,-6.6,-6.5,-6.7,-7.1,-7.5,-7.8,-7.6,-7.9,-8.2,-8.5,-8.8,-8.6,-8.3,-8.0,-7.8,-8.1,-8.5,-8.8,-9.1,-9.4,-9.2,-8.9,-9.3,-9.7,-10.0,-10.4,-10.8,-10.5,-10.9]
];

// Precipitations (mm), steps 1..64
const rrMean = [0.1,0.1,0,0.1,0,0,0.1,0.1,0,0, 0,0,0,0,0,0,0,0,0,0,
  0,0,0.2,0.3,0.4,0.3,0.1,0.1,0.1,0.3, 0.4,0.4,0.3,0.3,0.1,0.1,0.1,0.1,0.1,0.1,
  0.1,0.1,0.1,0.1,0.3,0.3,0.3,0.4,0.2,0.1, 0.2,0.1,0.2,0.2,0.1,0.2,0.3,0.4,0.4,0.3,
  0.2,0.4,0.4,0];
// sparse [step, mm], other steps are 0
const rrCtrl = [[24,0.3],[25,0.2],[30,0.4],[46,0.2]];
const rrGfs = [[46,2.2],[47,1.5],[48,0.7],[53,0.5],[54,1.2],[55,0.4],[57,0.5],[58,1.8],[59,0.5],[62,0.4],[63,1.2]];
const rrPerts = [
  [[45,1.4],[46,0.3],[60,0.8]],
  [[25,0.3],[52,0.4],[53,1.4],[54,0.3]],
  [[46,0.5],[47,2.5],[48,4.0],[49,2.4],[50,0.5]],
  [[35,0.5],[50,0.3]],
  [[34,0.8],[35,2.4],[36,0.2],[55,0.4],[56,2.0],[57,0.3]],
  [[4,0.3],[38,0.2]],
  [[30,1.0],[31,3.0],[32,0.3],[50,0.8],[51,1.2],[52,0.2]],
  [[26,0.2],[44,0.3]],
  [[27,0.4],[28,0.3],[52,0.6]],
  [[26,0.5],[41,0.3]],
  [[57,0.5],[58,4.9],[59,5.1],[60,0.5]],
  [[23,0.3],[24,2.3],[25,3.5],[26,0.3],[62,0.8],[63,3.6]],
  [[44,0.3]],
  [[25,0.9],[52,0.3]],
  [[27,1.1],[29,1.0],[30,2.0],[31,0.3]],
  [[9,0.2],[28,0.5],[55,0.2]],
  [[37,0.3]],
  [[44,1.0],[45,2.9],[46,0.3],[60,1.2]],
  [[41,0.5],[42,1.9],[43,0.2]],
  [[61,0.4]],
  [[38,0.4],[39,1.4],[40,0.2]],
  [[34,0.6],[48,0.4],[49,0.6]],
  [[57,0.6],[58,0.3]],
  [[24,0.6],[25,2.1],[26,0.2],[49,2.0],[50,0.3],[62,0.8],[63,2.9]],
  [[31,0.2],[32,3.4],[33,2.3],[34,2.4],[35,0.3]],
  [[32,1.5],[33,0.2],[35,1.0],[36,1.0],[37,0.9],[38,0.3]],
  [[23,0.5],[24,0.5],[25,0.3]],
  [[7,0.7],[8,0.7],[61,1.5],[62,3.5],[63,0.5]],
  [[30,0.3]],
  [[33,0.4],[47,0.3]]
];

const leftTicks = d3.range(30, -46, -5);
const rightTicks = d3.range(75, -1, -5);

function dense(pairs) {
  const a = new Array(64).fill(0);
  pairs.forEach(([s, v]) => { a[s - 1] = v; });
  return a;
}

const svg = d3.select("#chart");
const x = d3.scaleLinear().domain([0, 64]).range([50, 690]);
const yT = d3.scaleLinear().domain([30, -45]).range([21, 545]);
const yP = d3.scaleLinear().domain([75, 0]).range([21, 545]);

// grid
const grid = svg.append("g").attr("shape-rendering", "crispEdges");
grid.selectAll("line.v").data(dayLabels).join("line")
  .attr("class", "v")
  .attr("x1", (d, i) => Math.round(x(3 + 4 * i)) + 0.5)
  .attr("x2", (d, i) => Math.round(x(3 + 4 * i)) + 0.5)
  .attr("y1", 0).attr("y2", 600)
  .attr("stroke", "#c0c0c0");
grid.selectAll("line.h").data(leftTicks.filter(v => v !== 0)).join("line")
  .attr("class", "h")
  .attr("x1", 50).attr("x2", 690)
  .attr("y1", v => Math.round(yT(v)) + (v % 10 === 0 ? 0 : 0.5))
  .attr("y2", v => Math.round(yT(v)) + (v % 10 === 0 ? 0 : 0.5))
  .attr("stroke", "#c0c0c0")
  .attr("stroke-width", v => v % 10 === 0 ? 2 : 1);
const y0 = Math.round(yT(0));
[[y0 - 1.5, "#9a9a9a"], [y0 - 0.5, "#d8d8d8"], [y0 + 0.5, "#b0b0b0"]].forEach(([yy, c]) => {
  grid.append("line").attr("x1", 50).attr("x2", 690).attr("y1", yy).attr("y2", yy).attr("stroke", c);
});

// frame
const frame = svg.append("g").attr("stroke", "#000").attr("shape-rendering", "crispEdges");
frame.append("line").attr("x1", 50.5).attr("x2", 50.5).attr("y1", 0).attr("y2", 601);
frame.append("line").attr("x1", 690.5).attr("x2", 690.5).attr("y1", 0).attr("y2", 601);
frame.append("line").attr("x1", 50).attr("x2", 691).attr("y1", 600.5).attr("y2", 600.5);

// axes
const font = "DejaVu Sans Mono";
const axL = svg.append("g").attr("transform", "translate(20,2)")
  .call(d3.axisLeft(yT).tickValues(leftTicks).tickFormat(d => String(d)).tickSize(0).tickPadding(0));
axL.select(".domain").remove();
axL.attr("font-family", font).attr("font-size", 10);
axL.selectAll("text").attr("text-anchor", "start").attr("x", 0).attr("fill", "#000");

const axR = svg.append("g").attr("transform", "translate(710,2)")
  .call(d3.axisRight(yP).tickValues(rightTicks).tickFormat(d => String(d)).tickSize(0).tickPadding(0));
axR.select(".domain").remove();
axR.attr("font-family", font).attr("font-size", 10);
axR.selectAll("text").attr("text-anchor", "start").attr("x", 0).attr("fill", "#000");

const axB = svg.append("g").attr("transform", "translate(0,600)")
  .call(d3.axisBottom(x).tickValues(dayLabels.map((d, i) => 3 + 4 * i))
    .tickFormat((d, i) => dayLabels[i]).tickSize(0));
axB.select(".domain").remove();
axB.attr("font-family", font).attr("font-size", 10);
axB.selectAll("text").attr("x", 0).attr("y", 0).attr("dy", 0)
  .attr("text-anchor", "end").attr("fill", "#000")
  .attr("transform", "translate(8,2) rotate(-90)");

// series
const marker = d3.symbol().type(d3.symbolCross).size(9);
function drawPanel(yScale, offset, perts, gfs, ctrl, mean) {
  const line = d3.line().x((d, i) => x(i + offset)).y(d => yScale(d));
  const g = svg.append("g").attr("fill", "none");
  perts.forEach((p, k) => {
    const m = g.append("g");
    m.append("path").attr("d", line(p)).attr("stroke", pertColors[k])
      .attr("stroke-width", 1).attr("shape-rendering", "crispEdges");
    m.selectAll("path.mk").data(p).join("path")
      .attr("class", "mk")
      .attr("d", marker)
      .attr("transform", (d, i) => `translate(${x(i + offset)},${yScale(d)})`)
      .attr("fill", pertColors[k]);
  });
  g.append("path").attr("d", line(gfs)).attr("stroke", "#000").attr("stroke-width", 3).attr("stroke-linejoin", "round");
  g.append("path").attr("d", line(ctrl)).attr("stroke", "#0000ff").attr("stroke-width", 3).attr("stroke-linejoin", "round");
  g.append("path").attr("d", line(mean)).attr("stroke", "#ff0000").attr("stroke-width", 5).attr("stroke-linejoin", "round");
}
drawPanel(yT, 0, t850Perts, t850Gfs, t850Ctrl, t850Mean);
drawPanel(yT, 0, t500Perts, t500Gfs, t500Ctrl, t500Mean);
drawPanel(yP, 1, rrPerts.map(dense), dense(rrGfs), dense(rrCtrl), rrMean);

// texts
function txt(s, xx, yy, opts = {}) {
  return svg.append("text").attr("x", xx).attr("y", yy)
    .attr("font-family", font)
    .attr("font-size", opts.size || 10)
    .attr("font-weight", opts.bold ? "bold" : null)
    .attr("text-anchor", opts.anchor || "start")
    .attr("fill", "#000").text(s);
}
txt("Temp. 850hPa", 60, 70);
txt("Temp. 500hPa", 60, 273);
txt("Précipitations", 60, 536);
txt("(°c)", 20, 611);
txt("(mm)", 710, 611);
txt("Alt. 499m", 10, 627);

// legend
const lg = svg.append("g");
lg.append("line").attr("x1", 35).attr("x2", 65).attr("y1", 636.5).attr("y2", 636.5).attr("stroke", "#ff0000").attr("stroke-width", 4);
lg.append("line").attr("x1", 225).attr("x2", 258).attr("y1", 636.5).attr("y2", 636.5).attr("stroke", "#0000ff").attr("stroke-width", 4);
lg.append("line").attr("x1", 225).attr("x2", 258).attr("y1", 647.5).attr("y2", 647.5).attr("stroke", "#000").attr("stroke-width", 4);
txt("Moyenne des scénarios", 75, 641);
txt("Run de contrôle", 265, 641);
txt("Run GFS", 265, 652);
txt("30 Perts.", 340, 657);
lg.selectAll("rect.sw").data(pertColors).join("rect")
  .attr("class", "sw")
  .attr("x", (d, i) => 400 + 11 * i).attr("y", 650)
  .attr("width", 10).attr("height", 6).attr("fill", d => d);
lg.selectAll("text.num").data(pertColors).join("text")
  .attr("class", "num")
  .attr("x", (d, i) => 405 + 11 * i).attr("y", 646)
  .attr("text-anchor", "middle")
  .attr("font-family", font).attr("font-size", 8).attr("font-weight", "bold")
  .text((d, i) => String(i + 1).padStart(2, "0"));

// snowflake
const flake = svg.append("g").attr("transform", "translate(62,659)");
flake.append("circle").attr("r", 5).attr("fill", "#cfe8fb");
[0, 60, 120].forEach(a => {
  flake.append("line").attr("x1", -5).attr("x2", 5).attr("y1", 0).attr("y2", 0)
    .attr("transform", `rotate(${a})`).attr("stroke", "#5aa8e8").attr("stroke-width", 1.5);
});
flake.append("circle").attr("r", 1.2).attr("fill", "#fff");
txt("Risque neige", 75, 663);

// title box
svg.append("rect").attr("x", 20.5).attr("y", 667.5).attr("width", 420).attr("height", 32)
  .attr("fill", "none").attr("stroke", "#000");
txt("Diagramme des ensembles GEFS sur 384h : 40.1N 0.2W", 30, 682, { bold: true, size: 11.4 });
txt("Températures 850hPa et 500hPa (°C) , précipitations (mm)", 30, 695);
txt("Ensemble GEFS du 26/08/2026 - 06Z", 450, 678);
txt("Copyright 2026 Meteociel.fr", 450, 696, { bold: true, size: 11.6 });
</script>
</body>
</html>
